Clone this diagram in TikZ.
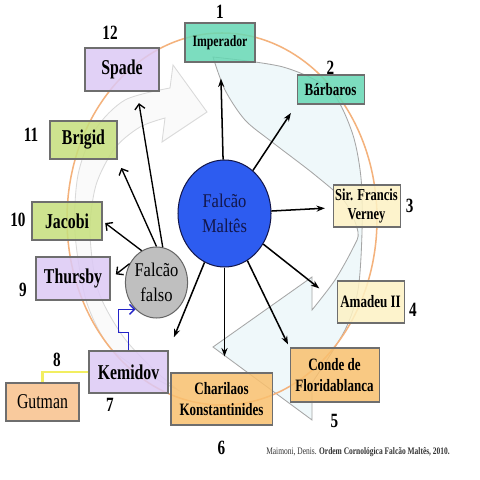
\documentclass[tikz,border=0pt]{standalone}
\usepackage{fontspec}
\setmainfont{Liberation Serif}
\newfontfamily\narrow{Liberation Serif}[FakeStretch=0.75]
\newfontfamily\semi{Liberation Serif}[FakeStretch=0.85]
\usepackage{tikz}
\usetikzlibrary{arrows.meta, positioning, shapes.geometric, calc}
\definecolor{boxteal}{HTML}{66D8B4}
\definecolor{boxlilac}{HTML}{DCC9F5}
\definecolor{boxlime}{HTML}{C6DF7C}
\definecolor{boxcream}{HTML}{FDF2C4}
\definecolor{boxapricot}{HTML}{F9C06E}
\definecolor{boxsalmon}{HTML}{F8C18C}
\definecolor{falconblue}{HTML}{2D5CF0}
\definecolor{falconnavy}{HTML}{12164A}
\definecolor{ringorange}{HTML}{F4B27C}
\definecolor{icyblue}{HTML}{EFF8FA}
\definecolor{edgegray}{HTML}{6E6E6E}
\definecolor{elbowblue}{HTML}{2323C8}
\definecolor{linkyellow}{HTML}{F2EE60}
\newcommand{\pxu}{0.5928pt}

\begin{document}
\begin{tikzpicture}[x=\pxu, y=-\pxu,
      box/.style={rectangle, draw=edgegray, line width=0.6pt, fill opacity=0.85, text opacity=1,
                  inner sep=1pt, align=center, text=black},
      big/.style={font=\narrow\bfseries\fontsize{12.5}{14}\selectfont},
      mid/.style={font=\narrow\bfseries\fontsize{10.3}{12.5}\selectfont},
      num/.style={font=\narrow\bfseries\fontsize{12}{12}\selectfont, inner sep=0pt},
      hub/.style={ellipse, draw=falconnavy, line width=0.6pt, align=center, inner sep=0pt,
                  font=\semi\fontsize{11.5}{14.8}\selectfont},
      arr/.style={-{Stealth[length=5pt, width=3.6pt]}, line width=0.9pt},
      farr/.style={-{Straight Barb[length=3pt, width=6pt]}, line width=0.8pt}
    ]
      \path[fill=white] (0,0) rectangle (480,480);
      % background cycle
      \draw[draw=gray!30, fill=gray!4, line width=0.5pt]
        plot[smooth] coordinates {(178,390) (140,370) (108,345) (86,300) (75,233) (78,175) (95,130) (125,100) (170,88)}
        -- (173,65) -- (207,112) -- (162,142) -- (165,118)
        -- plot[smooth] coordinates {(165,118) (140,127) (115,148) (96,185) (90,233) (98,290) (122,335) (152,368) (178,390)}
        -- cycle;
      \draw[draw=gray!70, fill=icyblue, line width=0.5pt]
        plot[smooth] coordinates {(213,57) (283,67) (330,90) (352,132) (361,178) (362,232) (358,290) (345,330) (312,383)}
        -- (312,420) -- (213,347) -- (312,277) -- (312,310)
        -- plot[smooth] coordinates {(312,310) (335,280) (353,248) (358,232) (345,202) (315,175) (272,142) (245,120) (225,90) (213,57)}
        -- cycle;
      \draw[ringorange, line width=0.9pt] (222,219) ellipse [x radius=155, y radius=186];

      \node[hub, fill=falconblue, text=falconnavy, minimum width=93*\pxu, minimum height=107*\pxu] (mal) at (224.5,213.5) {Falcão\\Maltês};
      \node[hub, fill=gray!50, draw=gray!80!black, text=black, minimum width=53*\pxu, minimum height=71*\pxu] (fal) at (156.5,282.5) {Falcão\\falso};

      \node[box, mid, fill=boxteal, minimum width=70*\pxu, minimum height=39*\pxu,
            font=\narrow\bfseries\fontsize{9.3}{10}\selectfont] (imp) at (220,42.5) {Imperador};
      \node[box, mid, fill=boxteal, minimum width=67*\pxu, minimum height=29*\pxu] (bar) at (330.5,89.5) {Bárbaros};
      \node[box, mid, fill=boxcream, minimum width=67*\pxu, minimum height=42*\pxu,
            font=\narrow\bfseries\fontsize{9.9}{11}\selectfont] (sir) at (366.5,206) {Sir. Francis\\Verney};
      \node[box, mid, fill=boxcream, minimum width=67*\pxu, minimum height=42*\pxu] (ama) at (370.5,302) {Amadeu II};
      \node[box, mid, fill=boxapricot, minimum width=89*\pxu, minimum height=54*\pxu] (con) at (334.5,375) {Conde de\\Floridablanca};
      \node[box, mid, fill=boxapricot, minimum width=101*\pxu, minimum height=52*\pxu] (cha) at (221.5,399) {Charilaos\\Konstantinides};
      \node[box, big, fill=boxlilac, minimum width=79*\pxu, minimum height=42*\pxu] (kem) at (128.5,372) {Kemidov};
      \node[box, fill=boxsalmon, minimum width=73*\pxu, minimum height=38*\pxu,
            font=\narrow\fontsize{12.5}{14}\selectfont] (gut) at (42.5,402) {Gutman};
      \node[box, big, fill=boxlilac, minimum width=74*\pxu, minimum height=43*\pxu] (thu) at (73,278.5) {Thursby};
      \node[box, big, fill=boxlime, minimum width=70*\pxu, minimum height=38*\pxu] (jac) at (67,221) {Jacobi};
      \node[box, big, fill=boxlime, minimum width=67*\pxu, minimum height=38*\pxu] (bri) at (83.5,140) {Brigid};
      \node[box, big, fill=boxlilac, minimum width=74*\pxu, minimum height=43*\pxu] (spa) at (122,69.5) {Spade};

      % order numbers
      \node[num, above=2pt of imp] (n1) {1};
      \node[num, above=0pt of bar] (n2) {2};
      \node[num, right=3pt of sir] (n3) {3};
      \node[num] (n4) at (413,310) {4};
      \node[num, below=7pt of con] (n5) {5};
      \node[num, below=9pt of cha] (n6) {6};
      \node[num] (n7) at (110,405) {7};
      \node[num] (n8) at (57,360) {8};
      \node[num] (n9) at (23,290) {9};
      \node[num] (n10) at (18,220) {10};
      \node[num] (n11) at (31,135) {11};
      \node[num] (n12) at (110,33) {12};

      \draw[arr, shorten >=9.5pt] (mal) -- (imp);
      \draw[arr, shorten >=6pt] (mal) -- (bar.south west);
      \draw[arr, shorten >=4.5pt] (mal) -- (sir);
      \draw[arr, shorten >=13pt] (mal) -- (ama.west);
      \draw[arr, shorten >=2pt] (mal) -- (con.north west);
      \draw[arr, shorten >=9.5pt] (mal) -- (mal |- cha.north);
      \draw[arr, shorten >=8.5pt] (mal) -- (kem.north east);

      \draw[farr, shorten >=7pt] (fal.80) -- ($(spa.south)+(15,0)$);
      \draw[farr, shorten >=5.5pt] (fal.90) -- (bri.south east);
      \draw[farr, shorten >=2pt] (fal.115) -- (jac.east);
      \draw[farr, shorten >=4pt] (fal.145) -- (thu.east);

      \draw[farr, elbowblue] (kem.north) -- ++(0,-18) -- ++(-10,0) |- (fal.232);
      \draw[linkyellow, line width=1.2pt] (kem.west) -| (gut.north);

      \node[font=\narrow\fontsize{5.9}{7}\selectfont, text=black!80] (src) at (358,452)
        {Maimoni, Denis. \textbf{Ordem Cornológica Falcão Maltês, 2010.}};
    \end{tikzpicture}
\end{document}
